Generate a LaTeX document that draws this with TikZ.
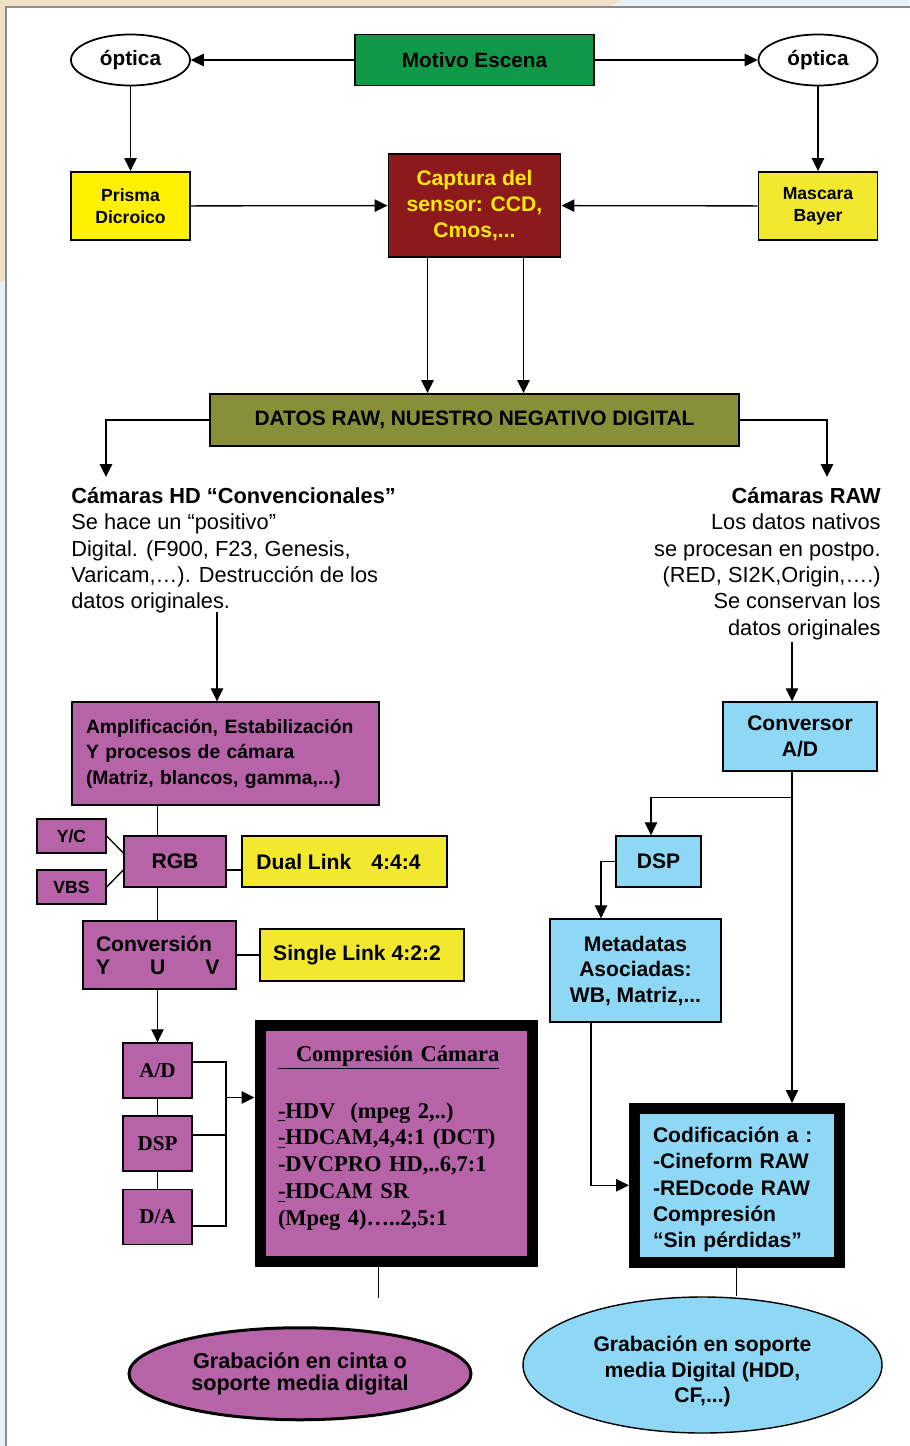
\documentclass[tikz,border=0pt]{standalone}
\usepackage{fontspec}
\setmainfont{Liberation Sans}
\newfontfamily\romana{Liberation Serif}
\usetikzlibrary{shapes,arrows.meta}

\definecolor{verde}{RGB}{16,152,72}
\definecolor{granate}{RGB}{140,25,27}
\definecolor{amarillo}{RGB}{255,242,0}
\definecolor{amarillob}{RGB}{242,232,46}
\definecolor{letraam}{RGB}{255,236,0}
\definecolor{oliva}{RGB}{137,143,57}
\definecolor{malva}{RGB}{182,100,167}
\definecolor{celeste}{RGB}{142,216,246}
\definecolor{fondoazul}{RGB}{232,240,248}
\definecolor{fondobeige}{RGB}{240,224,200}
\definecolor{gris}{RGB}{140,140,140}

\tikzstyle{rec} = [rectangle,draw,align=center,line width=0.8pt,inner sep=0pt]
\tikzstyle{recg} = [rec,line width=1.1pt]
\tikzstyle{elli} = [ellipse,draw,align=center,line width=0.8pt,inner sep=0pt]
\tikzstyle{flecha} = [-{Triangle[length=0.26cm,width=0.25cm]},line width=0.75pt]
\tikzstyle{linea} = [line width=0.75pt]
\tikzstyle{marco} = [draw=gris,line width=0.04cm]

\begin{document}
\begin{tikzpicture}
	\useasboundingbox (0,0) rectangle (18.18,-28.92);
	\fill[fondoazul] (0,0) rectangle (18.18,-28.92);
	\fill[fondobeige] (0,0) -- (12.46,0) -- (0,-5.64) -- cycle;
	\draw[marco,fill=white] (0.12,-0.14) rectangle (18.6,-29.3);

	\node[recg,fill=verde,minimum width=4.78cm,minimum height=1.02cm,font=\fontsize{11.8}{14}\selectfont\bfseries](motivo) at (9.49,-1.2) {Motivo Escena};
	
	\node[elli,line width=1pt,minimum width=2.38cm,minimum height=1.02cm,font=\fontsize{11.8}{14}\selectfont\bfseries,xshift=-5.88cm,left of=motivo](opticaizq) {óptica};
	\draw[flecha] (motivo) -- (opticaizq);
	
	\node[elli,line width=1pt,minimum width=2.38cm,minimum height=1.02cm,font=\fontsize{11.8}{14}\selectfont\bfseries,xshift=5.87cm,right of=motivo](opticader) {óptica};
	\draw[flecha] (motivo) -- (opticader);
	
	\node[recg,fill=amarillo,minimum width=2.38cm,minimum height=1.36cm,font=\fontsize{10}{12.3}\selectfont\bfseries,yshift=-1.92cm,below of=opticaizq](prisma) {Prisma\\Dicroico};
	\draw[flecha] (opticaizq.south) -- (opticaizq.south |- prisma.north);
	
	\node[recg,fill=amarillob,minimum width=2.38cm,minimum height=1.36cm,font=\fontsize{10}{12.3}\selectfont\bfseries,yshift=-1.92cm,below of=opticader](mascara) {Mascara\\Bayer};
	\draw[flecha] (opticader.south) -- (opticader.south |- mascara.north);
	
	\node[recg,fill=granate,text=letraam,minimum width=3.44cm,minimum height=2.06cm,font=\fontsize{12}{14.7}\selectfont\bfseries,yshift=-1.91cm,below of=motivo](captura) {Captura del\\sensor: CCD,\\Cmos,...};
	\draw[flecha] (prisma) -- (captura);
	\draw[flecha] (mascara) -- (captura);
	
	
	\node[recg,fill=oliva,minimum width=10.58cm,minimum height=1.04cm,font=\fontsize{11.9}{14}\selectfont\bfseries,yshift=-3.29cm,below of=captura](datos) {DATOS RAW, NUESTRO NEGATIVO DIGITAL};
	\draw[flecha] ([xshift=-0.94cm]captura.south) -- ([xshift=-0.94cm]captura.south |- datos.north);
	\draw[flecha] ([xshift=0.98cm]captura.south) -- ([xshift=0.98cm]captura.south |- datos.north);
	
	\coordinate (flechahd) at (2.12,-9.54);
	\coordinate (flecharaw) at (16.54,-9.54);
	\draw[flecha] (datos.west) -| (flechahd);
	\draw[flecha] (datos.east) -| (flecharaw);
	
	\node[anchor=north west,align=left,inner sep=0pt,font=\fontsize{12.4}{15}\selectfont](camhd) at (1.42,-9.74) {\textbf{Cámaras HD “Convencionales”}\\Se hace un “positivo”\\Digital. (F900, F23, Genesis,\\Varicam,…). Destrucción de los\\datos originales.};
	
	\node[anchor=north east,align=right,inner sep=0pt,font=\fontsize{12.4}{15}\selectfont](camraw) at (17.62,-9.74) {\textbf{Cámaras RAW}\\Los datos nativos\\se procesan en postpo.\\(RED, SI2K,Origin,….)\\Se conservan los\\datos originales};
	
	
	\node[rec,fill=malva,minimum width=6.14cm,minimum height=2.06cm,text width=5.58cm,inner xsep=0.28cm,align=left,font=\fontsize{11}{14.5}\selectfont\bfseries](ampl) at (4.51,-15.07) {Amplificación, Estabilización\\Y procesos de cámara\\(Matriz, blancos, gamma,...)};
	\coordinate (salidahd) at (4.34,-12.24);
	\draw[flecha] (salidahd) -- (salidahd |- ampl.north);
	
	\node[rec,fill=malva,minimum width=2.04cm,minimum height=1.02cm,font=\fontsize{12}{14}\selectfont\bfseries,xshift=-1.01cm,yshift=-1.16cm,below of=ampl](rgb) {RGB};
	
	\node[rec,fill=malva,minimum width=1.38cm,minimum height=0.68cm,font=\fontsize{10}{12}\selectfont\bfseries,xshift=-1.07cm,yshift=0.51cm,left of=rgb](yc) {Y/C};
	\draw[linea] (yc.east) -- ([yshift=0.17cm]rgb.west);
	
	\node[rec,fill=malva,minimum width=1.38cm,minimum height=0.68cm,font=\fontsize{10}{12}\selectfont\bfseries,xshift=-1.07cm,yshift=-0.51cm,left of=rgb](vbs) {VBS};
	\draw[linea] (vbs.east) -- ([yshift=-0.17cm]rgb.west);
	
	\node[rec,fill=amarillob,minimum width=4.1cm,minimum height=1.02cm,font=\fontsize{12}{14}\selectfont\bfseries,xshift=2.39cm,right of=rgb](dual) {Dual Link\hspace{0.4cm}4:4:4\hspace{0.24cm}};
	\draw[linea] ([yshift=-0.17cm]rgb.east) -- ([yshift=-0.17cm]dual.west);
	
	\node[rec,fill=malva,minimum width=3.06cm,minimum height=1.36cm,text width=2.54cm,inner xsep=0.26cm,align=left,font=\fontsize{12}{13.2}\selectfont\bfseries,xshift=-0.31cm,yshift=-0.87cm,below of=rgb](conv) {Conversión\\Y\hspace{0.8cm}U\hspace{0.8cm}V};
	
	\node[rec,fill=amarillob,minimum width=4.08cm,minimum height=1.04cm,font=\fontsize{12}{14}\selectfont\bfseries,xshift=3.05cm,right of=conv](single) {Single Link 4:2:2\hspace{0.2cm}};
	\draw[linea] (conv.east) -- (conv.east -| single.west);
	
	
	\node[rec,fill=malva,minimum width=1.38cm,minimum height=1.1cm,font=\romana\fontsize{12}{14}\selectfont\bfseries,xshift=-0.04cm,yshift=-1.31cm,below of=conv](ad) {A/D};
	\draw[linea] (ampl.south -| ad) -- (rgb.north -| ad);
	\draw[linea] (rgb.south -| ad) -- (conv.north -| ad);
	\draw[flecha] (conv.south -| ad.north) -- (ad.north);
	
	\node[rec,fill=malva,minimum width=1.38cm,minimum height=1.1cm,font=\romana\fontsize{12}{14}\selectfont\bfseries,yshift=-0.46cm,below of=ad](dspa) {DSP};
	\draw[linea] (ad) -- (dspa);
	
	\node[rec,fill=malva,minimum width=1.38cm,minimum height=1.1cm,font=\romana\fontsize{12}{14}\selectfont\bfseries,yshift=-0.47cm,below of=dspa](da) {D/A};
	\draw[linea] (dspa) -- (da);
	
	\node[rec,fill=malva,line width=0.22cm,minimum width=5.44cm,minimum height=4.73cm,text width=4.72cm,inner xsep=0.36cm,align=left,font=\romana\fontsize{12.8}{15.2}\selectfont\bfseries,xshift=3.77cm,right of=dspa](comp) {\underline{\hspace{0.36cm}Compresión Cámara}\\[0.61cm]\underline{-}HDV\hspace{0.3cm}(mpeg 2,..)\\\underline{-}HDCAM,4,4:1 (DCT)\\-DVCPRO HD,..6,7:1\\\underline{-}HDCAM SR\\(Mpeg 4)…..2,5:1\rule[-0.33cm]{0pt}{0pt}};
	\coordinate (llave) at (4.52,-21.95);
	\draw[linea] ([yshift=0.17cm]ad.east) -| (llave) |- ([yshift=-0.18cm]da.east);
	\draw[linea] ([yshift=0.17cm]dspa.east) -- ++(0.68,0);
	\draw[flecha] (llave) -- (llave -| comp.west);
	
	\node[elli,fill=malva,line width=1.7pt,minimum width=6.84cm,minimum height=1.84cm,font=\fontsize{12.3}{12.7}\selectfont\bfseries,xshift=-1.92cm,yshift=-3.605cm,below of=comp](grabizq) {Grabación en cinta o\\soporte media digital};
	\coordinate (fincomp) at (7.57,-25.96);
	\draw[linea] (fincomp |- comp.south) -- (fincomp);
	
	
	\node[rec,fill=celeste,minimum width=3.08cm,minimum height=1.38cm,font=\fontsize{12}{14.8}\selectfont\bfseries](conversor) at (16.0,-14.73) {Conversor\\A/D};
	\coordinate (salidaraw) at (15.84,-12.84);
	\draw[flecha] (salidaraw) -- (salidaraw |- conversor.north);
	
	\node[rec,fill=celeste,minimum width=1.7cm,minimum height=1.02cm,font=\fontsize{12}{14}\selectfont\bfseries,xshift=-2.83cm,yshift=-1.5cm,below of=conversor](dspb) {DSP};
	\coordinate (bajada) at ([xshift=-0.16cm]conversor.south);
	\draw[flecha] (bajada) -- ++(0,-0.52) -| ([xshift=-0.15cm]dspb.north);
	
	\node[rec,fill=celeste,minimum width=3.42cm,minimum height=2.06cm,font=\fontsize{12}{14.5}\selectfont\bfseries,xshift=-0.46cm,yshift=-1.18cm,below of=dspb](meta) {Metadatas\\Asociadas:\\WB, Matriz,...};
	\draw[flecha] (dspb.west) -| ([xshift=-0.69cm]meta.north);
	
	\node[rec,fill=celeste,line width=0.22cm,minimum width=4.09cm,minimum height=3.07cm,text width=3.35cm,inner xsep=0.37cm,align=left,font=\fontsize{12}{14.9}\selectfont\bfseries,xshift=2.025cm,yshift=-3.295cm,below of=meta](codif) {\rule{0pt}{0.48cm}Codificación a :\\-Cineform RAW\\-REDcode RAW\\Compresión\\“Sin pérdidas”};
	\draw[flecha] (bajada) -- (bajada |- codif.north);
	\draw[flecha] ([xshift=-0.89cm]meta.south) |- (codif.west);
	
	\node[elli,fill=celeste,line width=0.8pt,minimum width=7.18cm,minimum height=2.72cm,font=\fontsize{12}{14.6}\selectfont\bfseries,xshift=-0.685cm,yshift=-2.595cm,below of=codif](grabder) {\rule{0pt}{0.58cm}Grabación en soporte\\media Digital (HDD,\\CF,...)};
	\draw[linea] (codif.south) -- (codif.south |- grabder.north);
	
\end{tikzpicture}
\end{document}
